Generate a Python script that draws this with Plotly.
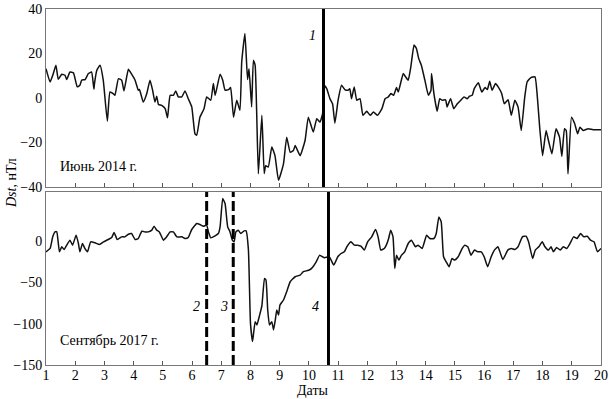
import plotly.graph_objects as go
from plotly.subplots import make_subplots

# June 2014 (top panel)
top_days = [1.0, 1.14, 1.25, 1.34, 1.42, 1.54, 1.65, 1.71, 1.82, 1.94, 2.07, 2.16, 2.22, 2.34, 2.45, 2.56,
            2.64, 2.66, 2.74, 2.85, 2.96, 3.1, 3.19, 3.3, 3.36, 3.48, 3.59, 3.67, 3.82, 3.93, 4.05, 4.16,
            4.2, 4.33, 4.45, 4.56, 4.65, 4.73, 4.79, 4.85, 4.96, 5.08, 5.16, 5.25, 5.36, 5.44, 5.53, 5.65,
            5.76, 5.87, 5.99, 6.1, 6.16, 6.27, 6.41, 6.5, 6.64, 6.73, 6.79, 6.96, 7.05, 7.13, 7.25, 7.32,
            7.42, 7.53, 7.64, 7.7, 7.81, 7.9, 7.95, 8.04, 8.1, 8.16, 8.27, 8.39, 8.47, 8.52, 8.61, 8.73,
            8.84, 8.96, 9.13, 9.24, 9.36, 9.47, 9.53, 9.7, 9.87, 9.98, 10.15, 10.27, 10.38, 10.47, 10.52,
            10.61, 10.72, 10.81, 10.89, 11.0, 11.12, 11.23, 11.34, 11.4, 11.46, 11.55, 11.64, 11.75, 11.85,
            11.98, 12.1, 12.21, 12.35, 12.5, 12.61, 12.72, 12.81, 12.9, 13.0, 13.06, 13.23, 13.31, 13.4,
            13.49, 13.6, 13.68, 13.76, 13.85, 13.97, 14.09, 14.18, 14.2, 14.28, 14.39, 14.48, 14.56, 14.68,
            14.73, 14.85, 14.96, 15.08, 15.2, 15.31, 15.42, 15.5, 15.59, 15.66, 15.8, 15.92, 16.03, 16.11,
            16.19, 16.27, 16.39, 16.48, 16.6, 16.69, 16.82, 16.93, 17.05, 17.16, 17.27, 17.39, 17.47, 17.6,
            17.74, 17.83, 17.9, 18.0, 18.12, 18.2, 18.32, 18.46, 18.58, 18.66, 18.75, 18.81, 18.87, 18.99,
            19.1, 19.2, 19.28, 19.39, 19.56, 19.73, 20.0]
top_dst = [13.2, 7.2, 11.0, 14.7, 8.4, 10.7, 10.2, 8.3, 11.7, 11.3, 5.0, 5.7, 8.0, 8.3, 11.0, 11.7,
           4.0, 6.5, 12.5, 14.7, 8.0, -10.4, 2.7, 2.0, 1.2, 8.7, 8.0, 3.2, 12.9, 10.7, 8.0, 3.5,
           3.8, -1.8, 2.0, 8.0, 3.5, -1.8, 0.8, -2.9, -3.3, -4.8, -8.9, 1.2, 1.2, 3.2, 0.5, 0.5,
           3.2, -0.3, -4.0, -16.1, -16.8, -8.6, -4.8, 0.5, -1.0, 6.5, 1.2, 10.7, 8.0, 3.5, 3.8, 4.7,
           -8.6, -1.0, -5.6, 16.2, 29.0, 8.3, 13.2, -4.0, 17.0, 14.7, -34.1, -7.8, -34.0, -30.4, -31.0, -22.0,
           -26.0, -37.0, -29.6, -17.6, -24.4, -23.6, -21.4, -25.9, -19.0, -8.6, -15.3, -9.3, -10.8, -7.0, 5.7,
           4.2, -0.3, -2.6, -11.3, -1.0, 5.7, 3.8, 3.5, 4.2, -0.3, 5.0, -1.0, -0.3, -7.8,
           -6.0, -7.8, -6.3, -7.8, -4.8, -0.3, 0.5, 2.0, 1.2, 4.7, 2.7, 11.0, 9.5, 8.0,
           14.0, 23.8, 22.3, 17.7, 14.7, 8.0, 1.2, 3.5, 11.0, 2.0, -5.9, -0.3, -1.0, -0.8,
           -4.0, -0.3, -4.8, -2.6, -1.0, 0.5, -0.3, 0.8, 1.2, 4.2, 6.9, 2.7, 4.7, 3.8,
           7.5, 3.5, 6.5, 5.0, 2.0, -2.6, -0.8, -7.8, -1.0, -4.0, -14.6, 0.5, 7.2, 9.2,
           9.5, -1.0, -13.1, -25.9, -14.6, -19.0, -25.1, -13.8, -17.6, -26.3, -13.8, -14.6, -34.1, -8.6,
           -11.6, -16.1, -13.1, -14.6, -13.8, -14.3, -14.3]

# September 2017 (bottom panel)
bot_days = [1.0, 1.14, 1.23, 1.31, 1.37, 1.46, 1.54, 1.62, 1.71, 1.82, 1.91, 2.03, 2.11, 2.16, 2.25, 2.33,
            2.42, 2.53, 2.68, 2.83, 2.97, 3.13, 3.25, 3.33, 3.44, 3.59, 3.7, 3.82, 3.93, 4.05, 4.16,
            4.28, 4.39, 4.5, 4.62, 4.7, 4.79, 4.88, 5.02, 5.13, 5.25, 5.36, 5.48, 5.65, 5.76, 5.87,
            5.99, 6.16, 6.27, 6.39, 6.5, 6.56, 6.64, 6.79, 6.9, 6.96, 7.05, 7.13, 7.22, 7.3, 7.38,
            7.44, 7.5, 7.58, 7.67, 7.78, 7.85, 7.93, 8.0, 8.07, 8.16, 8.22, 8.3, 8.39, 8.48, 8.53,
            8.59, 8.65, 8.73, 8.79, 8.85, 8.9, 8.96, 9.01, 9.13, 9.24, 9.36, 9.53, 9.7, 9.81, 9.93,
            10.01, 10.1, 10.25, 10.37, 10.53, 10.7, 10.85, 10.99, 11.1, 11.21, 11.3, 11.44, 11.56,
            11.67, 11.78, 11.9, 12.01, 12.15, 12.28, 12.37, 12.46, 12.58, 12.65, 12.73, 12.8, 12.88,
            12.94, 13.0, 13.08, 13.17, 13.28, 13.4, 13.51, 13.65, 13.74, 13.88, 14.03, 14.14, 14.28,
            14.36, 14.45, 14.53, 14.61, 14.7, 14.8, 14.9, 14.99, 15.11, 15.25, 15.34, 15.44, 15.55,
            15.67, 15.78, 15.9, 16.0, 16.12, 16.24, 16.35, 16.47, 16.64, 16.81, 16.93, 17.05, 17.16,
            17.31, 17.43, 17.52, 17.66, 17.75, 17.87, 17.99, 18.08, 18.2, 18.29, 18.37, 18.48, 18.6,
            18.71, 18.83, 18.94, 19.06, 19.18, 19.3, 19.41, 19.53, 19.64, 19.76, 19.88, 20.0]
bot_dst = [-13.3, -9.2, 4.8, 10.8, 10.8, -13.3, -7.2, -10.4, -5.2, 0.8, -5.2, 6.8, -3.2, -13.3, -3.2, -9.2,
           -13.3, -1.2, -2.4, -4.4, -1.2, 1.6, 4.0, 10.0, 1.6, 4.8, 4.8, 8.0, 8.8, 1.6, 2.8,
           11.6, 10.8, 10.8, 12.9, 17.7, 12.9, 10.8, 0.8, 4.8, 10.8, 10.8, 4.8, 4.8, 2.8, 4.0,
           13.7, 20.9, 19.7, 17.7, 18.9, 10.8, 3.6, 6.0, 8.8, 16.9, 51.0, 45.0, 16.9, 10.8, 0.8,
           -1.2, 10.8, 12.9, 8.8, 12.0, 12.0, -11.2, -99.6, -121.7, -97.6, -101.6, -91.6, -78.7, -45.4, -47.4,
           -83.5, -101.6, -97.6, -107.6, -95.6, -83.5, -89.6, -77.5, -71.5, -61.4, -49.4, -43.4, -41.4, -37.3, -36.1,
           -35.3, -33.0, -25.3, -17.3, -20.5, -19.3, -29.3, -19.3, -15.3, -13.3, -7.2, -1.2, -5.2,
           -5.2, -6.4, -11.2, -1.2, 4.8, 13.7, 4.8, -11.2, -9.2, -5.2, 2.8, 12.9, 4.8,
           -33.3, -17.3, -23.3, -17.3, -13.3, -3.2, 0.8, -7.2, -5.2, -9.2, 6.8, 2.8, 2.8,
           8.8, 28.9, 22.9, -19.3, -25.3, -31.3, -21.3, -23.3, -19.3, -9.2, -5.2, -7.2, -17.3,
           -11.2, -13.3, -13.3, -19.3, -31.3, -19.3, -11.2, -7.2, -22.5, -11.2, -9.2, -10.4, -7.2,
           4.8, 5.6, -1.2, -21.3, -11.2, -7.2, -1.2, -7.2, -11.2, -7.2, -13.3, -8.0, -11.2,
           -7.2, -9.2, -3.2, 4.8, 2.8, 8.8, 4.8, 5.6, 0.8, -1.2, -13.3, -9.2]

top_events = [10.5]
bot_solid_events = [10.67]
bot_dashed_events = [6.5, 7.41]
x_ticks = list(range(1, 21))

fig = make_subplots(rows=2, cols=1, shared_xaxes=False, vertical_spacing=0.014)
fig.add_trace(go.Scatter(x=top_days, y=top_dst, mode="lines",
                         line=dict(color="#111", width=1.5, shape="spline", smoothing=0.4),
                         showlegend=False), row=1, col=1)
fig.add_trace(go.Scatter(x=bot_days, y=bot_dst, mode="lines",
                         line=dict(color="#111", width=1.5, shape="spline", smoothing=0.4),
                         showlegend=False), row=2, col=1)

for xv in top_events:
    fig.add_vline(x=xv, line=dict(color="black", width=3), row=1, col=1)
for xv in bot_solid_events:
    fig.add_vline(x=xv, line=dict(color="black", width=3), row=2, col=1)
for xv in bot_dashed_events:
    fig.add_vline(x=xv, line=dict(color="black", width=3, dash="10px,4px"), row=2, col=1)

font = dict(family="Liberation Serif, Times New Roman, serif", size=14, color="black")
axis_common = dict(showline=True, linecolor="#777", linewidth=1, mirror=True, showgrid=False,
                   zeroline=False, tickfont=font, automargin=False)

fig.update_xaxes(range=[1, 20], tickvals=x_ticks, ticks="inside", ticklen=4, tickcolor="#555",
                 ticklabelstandoff=-3, **axis_common)
fig.update_xaxes(showticklabels=False, row=1, col=1)
fig.update_yaxes(ticks="", **axis_common)
fig.update_yaxes(range=[-40, 40], tickvals=[-40, -20, 0, 20, 40], row=1, col=1)
fig.update_yaxes(range=[-150, 59], tickvals=[-150, -100, -50, 0], row=2, col=1)

fig.update_layout(
    width=609, height=399,
    margin=dict(l=46, r=8, t=9, b=34),
    paper_bgcolor="white", plot_bgcolor="white",
    font=font,
)
fig.layout.yaxis.domain = [0.5, 1.0]
fig.layout.yaxis2.domain = [0.0, 0.486]

fig.add_annotation(x=1.41, y=-30.6, xref="x", yref="y", text="Июнь 2014 г.", showarrow=False,
                   xanchor="left", yanchor="middle", font=font)
fig.add_annotation(x=1.41, y=-120.8, xref="x2", yref="y2", text="Сентябрь 2017 г.", showarrow=False,
                   xanchor="left", yanchor="middle", font=font)
fig.add_annotation(x=10.13, y=28.3, xref="x", yref="y", text="<i>1</i>", showarrow=False, font=font)
fig.add_annotation(x=6.14, y=-79.7, xref="x2", yref="y2", text="<i>2</i>", showarrow=False, font=font)
fig.add_annotation(x=7.1, y=-79.7, xref="x2", yref="y2", text="<i>3</i>", showarrow=False, font=font)
fig.add_annotation(x=10.21, y=-79.7, xref="x2", yref="y2", text="<i>4</i>", showarrow=False, font=font)
fig.add_annotation(x=-0.062, y=0.51, xref="paper", yref="paper", text="<i>Dst</i>, нТл",
                   textangle=-90, showarrow=False, font=font, xanchor="center", yanchor="middle")
fig.add_annotation(x=0.481, y=-0.072, xref="paper", yref="paper", text="Даты",
                   showarrow=False, font=font, xanchor="center", yanchor="middle")

fig.write_html("out.html", config={"displayModeBar": False},
               post_script="document.body.style.margin='0px';document.body.style.padding='0px';")
